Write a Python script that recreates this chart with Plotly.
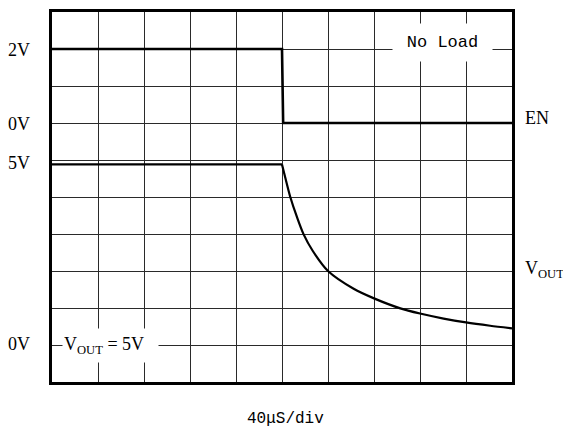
import plotly.graph_objects as go

# Time in microseconds (40 us/div, 10 divisions)
t_en = [0, 200, 201, 400]
en_v = [2, 2, 0, 0]

t_vout = [0, 200, 204.4, 207.2, 213.2, 218.8, 226.8, 240, 262.3, 280, 302.9, 320, 340.5, 360, 381, 400]
vout_v = [4.88, 4.88, 4.33, 4.0, 3.44, 2.99, 2.54, 2.0, 1.52, 1.26, 0.99, 0.85, 0.715, 0.61, 0.52, 0.45]

# Screen offsets (in divisions) and scale (V/div) for each channel
EN_OFFSET = 7
VOUT_OFFSET = 1
V_PER_DIV = 1

# label, paper-y position
y_labels = [("2V", 0.898), ("0V", 0.698), ("5V", 0.592), ("0V", 0.1025)]

fig = go.Figure()
fig.add_trace(go.Scatter(
    x=t_en, y=[v / V_PER_DIV + EN_OFFSET for v in en_v],
    mode="lines", line=dict(color="black", width=2.6), hoverinfo="skip"))
# flat part of Vout
fig.add_trace(go.Scatter(
    x=t_vout[:2], y=[v / V_PER_DIV + VOUT_OFFSET for v in vout_v[:2]],
    mode="lines", line=dict(color="black", width=2.2), hoverinfo="skip"))
# decay part of Vout
fig.add_trace(go.Scatter(
    x=t_vout[1:], y=[v / V_PER_DIV + VOUT_OFFSET for v in vout_v[1:]],
    mode="lines", line=dict(color="black", width=2.2, shape="spline", smoothing=0.8),
    hoverinfo="skip"))

serif = "Liberation Serif"
mono = "Liberation Mono"

ann = []
for txt, py in y_labels:
    ann.append(dict(x=-0.0435, y=py, xref="paper", yref="paper", text=txt, showarrow=False,
                    xanchor="right", yanchor="middle", font=dict(family=serif, size=18, color="black")))

ann.append(dict(x=1.0246, y=0.713, xref="paper", yref="paper", text="EN", showarrow=False,
                xanchor="left", yanchor="middle", font=dict(family=serif, size=18, color="black")))
ann.append(dict(x=1.0246, y=0.305, xref="paper", yref="paper", text="V<sub>OUT</sub>", showarrow=False,
                xanchor="left", yanchor="middle", font=dict(family=serif, size=18, color="black")))
ann.append(dict(x=339.8, y=9.17, xref="x", yref="y", text="No Load", showarrow=False,
                xanchor="center", yanchor="middle", bgcolor="white", width=97, height=35, borderpad=1,
                font=dict(family=mono, size=17, color="black")))
ann.append(dict(x=51.1, y=1.0, xref="x", yref="y", text="V<sub>OUT</sub> = 5V", showarrow=False,
                xanchor="center", yanchor="middle", align="left", bgcolor="white", width=93, height=31,
                borderpad=1, font=dict(family=serif, size=18, color="black")))
ann.append(dict(x=0.507, y=-0.1, xref="paper", yref="paper", text="40μS/div", showarrow=False,
                xanchor="center", yanchor="middle", font=dict(family=mono, size=16, color="black")))

fig.update_layout(
    width=563, height=432,
    margin=dict(l=52, r=51, t=9, b=50),
    plot_bgcolor="white", paper_bgcolor="white",
    showlegend=False,
    annotations=ann,
)
fig.update_xaxes(range=[0, 400], dtick=40, tick0=0, showgrid=True, gridcolor="#2a2a2a", gridwidth=1,
                 showticklabels=False, ticks="", zeroline=False,
                 showline=True, mirror=True, linecolor="black", linewidth=2.5)
fig.update_yaxes(range=[0, 10], dtick=1, tick0=0, showgrid=True, gridcolor="#2a2a2a", gridwidth=1,
                 showticklabels=False, ticks="", zeroline=False,
                 showline=True, mirror=True, linecolor="black", linewidth=2.5)

fig.write_html("out.html", config={"displayModeBar": False},
               post_script="document.body.style.margin='0';document.body.style.overflow='hidden';")
